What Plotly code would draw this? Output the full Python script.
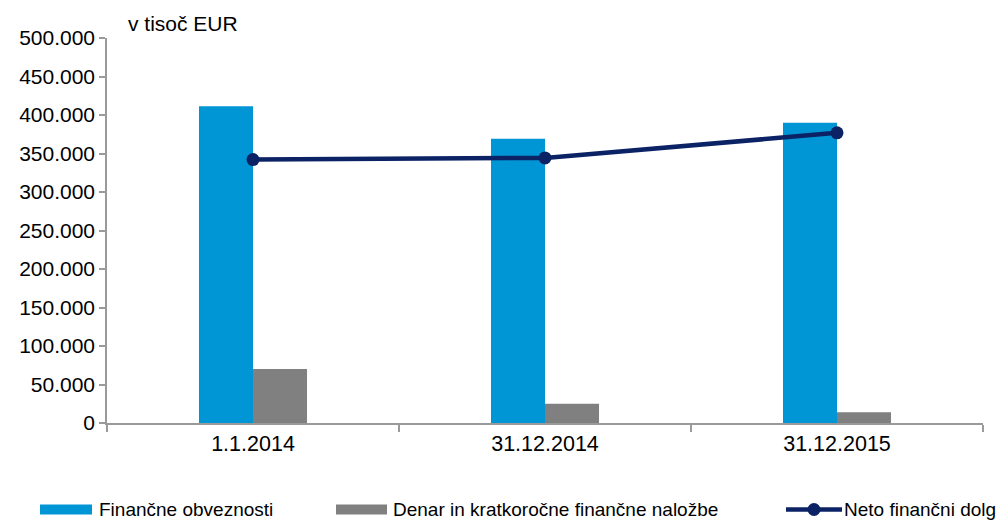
import plotly.graph_objects as go

categories = ["1.1.2014", "31.12.2014", "31.12.2015"]
financne_obveznosti = [411400, 369000, 389800]
denar_nalozbe = [70200, 25100, 13800]
neto_dolg = [342100, 344300, 376800]

names = ["Finančne obveznosti", "Denar in kratkoročne finančne naložbe", "Neto finančni dolg"]
blue = "#0096d6"
gray = "#808080"
navy = "#0b2265"
font = "Liberation Sans, Arial, sans-serif"

W, H = 1002, 522
L, R, T, B = 107, 19, 38, 99

fig = go.Figure()
fig.add_trace(go.Bar(x=categories, y=financne_obveznosti, name=names[0], marker_color=blue,
                     marker_line_width=0))
fig.add_trace(go.Bar(x=categories, y=denar_nalozbe, name=names[1], marker_color=gray,
                     marker_line_width=0))
fig.add_trace(go.Scatter(x=categories, y=neto_dolg, name=names[2], mode="lines+markers",
                         line=dict(color=navy, width=4.5),
                         marker=dict(color=navy, size=13)))

def px_x(p):
    return (p - L) / (W - L - R)

def px_y(p):
    return 1 - (p - T) / (H - T - B)

# manual legend
legend_items = [
    (40, 92, 98, "bar", blue, names[0]),
    (336, 387, 392, "bar", gray, names[1]),
    (786, 842, 843, "line", navy, names[2]),
]
ly = 509.5
shapes = []
annotations = []
for x0, x1, tx, kind, col, txt in legend_items:
    if kind == "bar":
        shapes.append(dict(type="rect", xref="paper", yref="paper",
                           x0=px_x(x0), x1=px_x(x1), y0=px_y(ly + 5), y1=px_y(ly - 5),
                           fillcolor=col, line_width=0))
    else:
        shapes.append(dict(type="line", xref="paper", yref="paper",
                           x0=px_x(x0), x1=px_x(x1), y0=px_y(ly), y1=px_y(ly),
                           line=dict(color=col, width=4.5)))
        cx = (x0 + x1) / 2
        shapes.append(dict(type="circle", xref="paper", yref="paper",
                           x0=px_x(cx - 6.5), x1=px_x(cx + 6.5), y0=px_y(ly + 6.5), y1=px_y(ly - 6.5),
                           fillcolor=col, line_width=0))
    annotations.append(dict(text=txt, xref="paper", yref="paper", x=px_x(tx), y=px_y(ly),
                            xanchor="left", yanchor="middle", showarrow=False, borderpad=0,
                            font=dict(size=19, color="black", family=font)))

annotations.append(dict(text="v tisoč EUR", xref="paper", yref="paper", x=px_x(126), y=px_y(23),
                        xanchor="left", yanchor="middle", showarrow=False,
                        font=dict(size=21, color="black", family=font)))

fig.update_layout(
    width=W, height=H,
    margin=dict(l=L, r=R, t=T, b=B, pad=0),
    paper_bgcolor="white", plot_bgcolor="white",
    barmode="group", bargap=0.63, bargroupgap=0,
    showlegend=False,
    separators=",.",
    font=dict(family=font, size=20, color="black"),
    shapes=shapes, annotations=annotations,
)
fig.update_xaxes(type="category", showline=True, linecolor="#9a9a9a", linewidth=1.5,
                 ticks="outside", tickson="boundaries", ticklen=7, tickcolor="#9a9a9a",
                 tickwidth=1.5, showgrid=False, tickfont=dict(size=21.5, color="black"))
fig.update_yaxes(range=[0, 500000], dtick=50000, tickformat=",d", showline=True,
                 linecolor="#9a9a9a", linewidth=1.5, ticks="outside", ticklen=6,
                 tickcolor="#9a9a9a", tickwidth=1.5, showgrid=False, zeroline=False,
                 tickfont=dict(size=21, color="black"))

fig.write_html("out.html", config={"displayModeBar": False},
               post_script="document.body.style.margin='0';")
